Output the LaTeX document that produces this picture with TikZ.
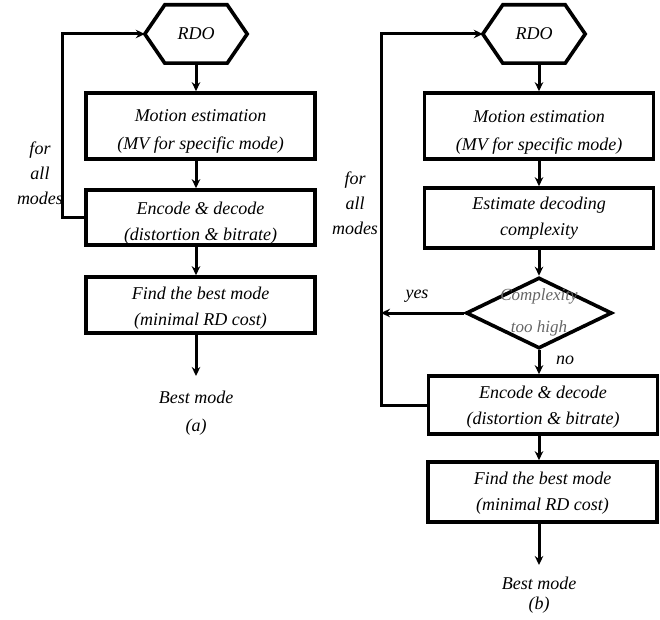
\documentclass[tikz,border=0pt]{standalone}
\usepackage{fontspec}
\setmainfont{Liberation Serif}
\usetikzlibrary{calc,shapes.geometric,arrows.meta}
\newcommand\tup[1]{\rule{0pt}{#1}}
\begin{document}
\begin{tikzpicture}[x=1bp,y=-1bp,
  every node/.style={font=\fontsize{18bp}{26bp}\selectfont\itshape, align=center, inner sep=0pt},
  box/.style={draw, line width=3.6bp, minimum width=229bp, minimum height=60bp},
  tall/.style={font=\fontsize{18bp}{28bp}\selectfont\itshape},
  hexn/.style={minimum width=102bp, minimum height=58bp},
  hexline/.style={line width=3.6bp, line join=miter},
  dia/.style={draw, diamond, line width=3.6bp, minimum width=146bp, minimum height=71bp},
  ditext/.style={font=\fontsize{17bp}{32bp}\selectfont\itshape, text=black!60},
  lbl/.style={font=\fontsize{18bp}{25bp}\selectfont\itshape},
  arr/.style={line width=3bp, -{Stealth[length=9bp,width=8.5bp]}}]
\useasboundingbox (0,0) rectangle (660,620);
% ---------- (a) ----------
\node[hexn] (rdoA) at (196,34) {RDO};
\draw[hexline] (rdoA.west) -- ($(rdoA.north west)+(20,0)$) -- ($(rdoA.north east)+(-20,0)$) -- (rdoA.east) -- ($(rdoA.south east)+(-20,0)$) -- ($(rdoA.south west)+(20,0)$) -- cycle;
\node[box, tall, minimum height=66bp] (meA) at (200.5,126) {\tup{22bp}Motion estimation\\(MV for specific mode)};
\node[box, minimum height=55bp] (edA) at (200.5,217.5) {\tup{23bp}Encode \& decode\\(distortion \& bitrate)};
\node[box, minimum height=56bp] (fbA) at (200.5,305) {\tup{19bp}Find the best mode\\(minimal RD cost)};
\coordinate (endA) at (196,376);
\node (bestA) at (196,397) {Best mode};
\node (capA) at (196,427) {(a)};
\node[lbl] (forA) at (40,173) {for\\all\\modes};
\draw[arr] (rdoA.south) -- (rdoA.south |- meA.north);
\draw[arr] (meA.south -| rdoA.south) -- (edA.north -| rdoA.south);
\draw[arr] (edA.south -| rdoA.south) -- (fbA.north -| rdoA.south);
\draw[arr] (fbA.south -| rdoA.south) -- (endA);
\draw[arr] (edA.west) -- ++(-22,0) |- (rdoA.west);
% ---------- (b) ----------
\node[hexn] (rdoB) at (534,34) {RDO};
\draw[hexline] (rdoB.west) -- ($(rdoB.north west)+(20,0)$) -- ($(rdoB.north east)+(-20,0)$) -- (rdoB.east) -- ($(rdoB.south east)+(-20,0)$) -- ($(rdoB.south west)+(20,0)$) -- cycle;
\node[box, tall, minimum height=66bp] (meB) at (539,126) {\tup{24bp}Motion estimation\\(MV for specific mode)};
\node[box] (ecB) at (539,218) {Estimate decoding\\complexity};
\node[dia] (dB) at (539,313) {};
\node[ditext] (dtB) at (539,312) {Complexity\\too high};
\node[box, minimum height=58bp] (edB) at (543,405) {\tup{17bp}Encode \& decode\\(distortion \& bitrate)};
\node[box] (fbB) at (542.5,492) {\tup{14bp}Find the best mode\\(minimal RD cost)};
\coordinate (endB) at (539,565);
\node (bestB) at (539,583) {Best mode};
\node (capB) at (539,605) {(b)};
\node[lbl] (forB) at (355,203) {for\\all\\modes};
\node (yesB) at (417,296) {yes};
\node (noB) at (565,360) {no};
\coordinate (loopB) at (381,313);
\draw[arr] (rdoB.south -| meB.north) -- (meB.north);
\draw[arr] (meB.south) -- (ecB.north);
\draw[arr] (ecB.south) -- (dB.north);
\draw[arr] (dB.south) -- (dB.south |- edB.north);
\draw[arr] (dB.west) -- (loopB);
\draw[arr] (edB.south -| dB.south) -- (fbB.north -| dB.south);
\draw[arr] (fbB.south -| dB.south) -- (endB);
\draw[arr] (edB.west) -- (edB.west -| loopB) |- (rdoB.west);
\end{tikzpicture}
\end{document}
